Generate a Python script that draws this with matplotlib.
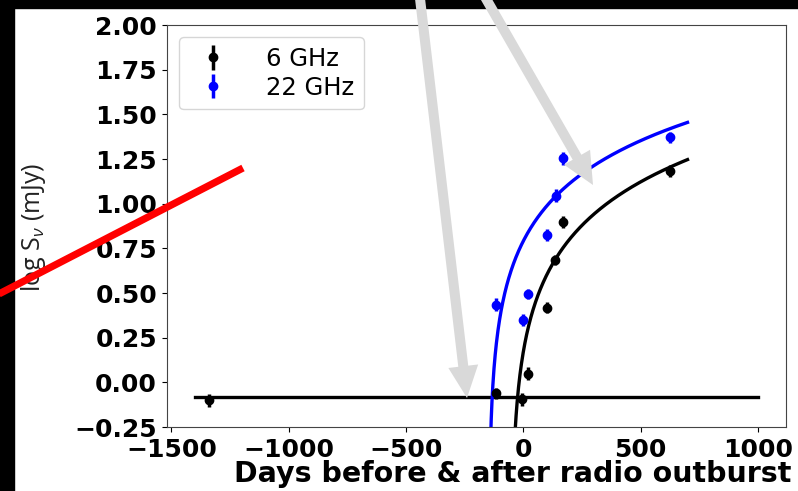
import numpy as np
import matplotlib.pyplot as plt
from matplotlib.patches import Rectangle, FancyArrow
from matplotlib.lines import Line2D
from matplotlib.transforms import IdentityTransform

plt.rcParams['mathtext.fontset'] = 'custom'
plt.rcParams['mathtext.rm'] = 'Open Sans'
plt.rcParams['mathtext.it'] = 'Open Sans:italic'

# Flux density measurements (log mJy) against days from the radio outburst
days_6ghz = [-1340, -117, -4, 22, 100, 136, 168, 627]
logs_6ghz = [-0.10, -0.06, -0.095, 0.05, 0.418, 0.685, 0.899, 1.184]
err_6ghz = [0.035, 0.03, 0.035, 0.035, 0.03, 0.03, 0.035, 0.035]

days_22ghz = [-117, -2, 22, 100, 140, 170, 627]
logs_22ghz = [0.435, 0.349, 0.495, 0.824, 1.045, 1.254, 1.371]
err_22ghz = [0.035, 0.035, 0.03, 0.035, 0.035, 0.035, 0.03]

# quiescent level before the outburst
quiescent_level = -0.08
quiescent_span = [-1400, 1000]

# power-law rise fits: log S = a + b * log10(t - t0)
fit_6ghz = {'a': -1.428, 'b': 0.93, 't0': -52.5}
fit_22ghz = {'a': -1.104, 'b': 0.874, 't0': -147.5}
fit_end = 700

xticks = [-1500, -1000, -500, 0, 500, 1000]
yticks = [-0.25, 0.0, 0.25, 0.5, 0.75, 1.0, 1.25, 1.5, 1.75, 2.0]


def fit_curve(fit, end):
    t = np.linspace(fit['t0'] + 0.5, end, 500)
    return t, fit['a'] + fit['b'] * np.log10(t - fit['t0'])


fig = plt.figure(figsize=(7.98, 4.91), dpi=100)
ax = fig.add_axes([0.209, 0.130, 0.776, 0.819])

ax.plot(quiescent_span, [quiescent_level] * 2, color='black', lw=2.4)

t, y = fit_curve(fit_6ghz, fit_end)
ax.plot(t, y, color='black', lw=2.4)
t, y = fit_curve(fit_22ghz, fit_end)
ax.plot(t, y, color='blue', lw=2.4)

ax.errorbar(days_6ghz, logs_6ghz, yerr=err_6ghz, fmt='o', color='black',
            ms=6, elinewidth=2.5, capsize=0, label='6 GHz', zorder=4)
ax.errorbar(days_22ghz, logs_22ghz, yerr=err_22ghz, fmt='o', color='blue',
            ms=6, elinewidth=2.5, capsize=0, label='22 GHz', zorder=4)

ax.set_ylim(-0.25, 2.0)
ax.set_xticks(xticks)
ax.set_yticks(yticks)
ax.tick_params(labelsize=18)
ax.tick_params(axis='x', pad=4)
for lab in ax.get_xticklabels() + ax.get_yticklabels():
    lab.set_fontweight('bold')
for sp in ax.spines.values():
    sp.set_color('#444444')

ax.set_xlabel('Days before & after radio outburst', fontsize=20.5,
              fontweight='bold', va='baseline')
ax.xaxis.set_label_coords(0.559, -0.137, transform=ax.transAxes)
fig.text(0.042, 0.538, r'log S$_\nu$ (mJy)', rotation=90, fontsize=18,
         family='Open Sans', color='#222222', ha='center', va='center')

ax.legend(loc='upper left', fontsize=17.5, handlelength=2.0,
          handletextpad=1.2, labelspacing=0.2, borderaxespad=0.5)

# dark frame along the left and top edges
fig.add_artist(Rectangle((0, 0), 14 / 798, 1, transform=fig.transFigure,
                         color='black', zorder=10))
fig.add_artist(Rectangle((0, 1 - 8 / 491), 1, 8 / 491,
                         transform=fig.transFigure, color='black', zorder=10))

# pointer arrows and marker line, in pixel coordinates
H = 491
pix = IdentityTransform()
for x0, y0, x1, y1 in [(419, -10, 467, 398), (481, -10, 593, 185)]:
    fig.add_artist(FancyArrow(x0, H - y0, x1 - x0, -(y1 - y0), width=10,
                              head_width=30, head_length=32,
                              length_includes_head=True, color='#d9d9d9',
                              lw=0, transform=pix, zorder=11))
fig.add_artist(Line2D([-5, 243], [H - 296, H - 168], color='red', lw=5.2,
                      solid_capstyle='butt', transform=pix, zorder=12))

fig.savefig('out.png', dpi=100)
